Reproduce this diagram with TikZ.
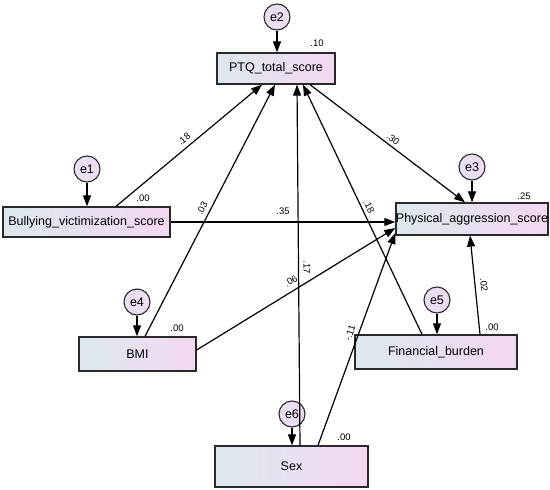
\documentclass[tikz,border=0pt]{standalone}
\usepackage{fontspec}
\setmainfont{Liberation Sans}
\usetikzlibrary{arrows.meta}
\definecolor{boxL}{HTML}{DDE8EE}
\definecolor{boxR}{HTML}{F3D8F2}
\definecolor{errL}{HTML}{E6E0F2}
\definecolor{errR}{HTML}{F2DCF2}
\definecolor{edge}{HTML}{2A2A2A}
\tikzset{
  var/.style={draw=edge, line width=1.3pt, left color=boxL, right color=boxR,
    inner sep=0pt, font=\fontsize{12.5}{14}\selectfont},
  err/.style={circle, draw=edge, line width=1.1pt, left color=errL, right color=errR,
    minimum size=26pt, inner sep=0pt, font=\fontsize{12.5}{14}\selectfont},
  path/.style={line width=1.2pt, -{Triangle[length=11pt,width=8pt]}},
  coef/.style={font=\fontsize{9.5}{10}\selectfont, inner sep=1pt},
}
\begin{document}
\begin{tikzpicture}[x=1pt, y=-1pt]
\useasboundingbox (0,0) rectangle (550,490);
% boxes
\node[var, minimum width=118pt, minimum height=31pt] (PTQ) at (276,68.5) {PTQ\_total\_score};
\node[var, minimum width=167pt, minimum height=30pt] (BV) at (86.5,222) {Bullying\_victimization\_score};
\node[var, minimum width=150pt, minimum height=32pt] (PA) at (472,219) {Physical\_aggression\_score};
\node[var, minimum width=117pt, minimum height=34pt] (BMI) at (137.5,354) {BMI};
\node[var, minimum width=162pt, minimum height=34pt] (FB) at (436,352) {Financial\_burden};
\node[var, minimum width=153pt, minimum height=41pt] (SEX) at (291.5,466.5) {Sex};
% error terms
\node[err] (e2) at (277,17) {e2};
\node[err] (e1) at (87,169) {e1};
\node[err] (e3) at (472,167) {e3};
\node[err] (e4) at (137,302) {e4};
\node[err] (e5) at (437,300) {e5};
\node[err] (e6) at (292,414) {e6};
\draw[path] (e2) -- (e2 |- PTQ.north);
\draw[path] (e1) -- (e1 |- BV.north);
\draw[path] (e3) -- (e3 |- PA.north);
\draw[path] (e4) -- (e4 |- BMI.north);
\draw[path] (e5) -- (e5 |- FB.north);
\draw[path] (e6) -- (e6 |- SEX.north);
% structural paths
\draw[path] ([xshift=29.5pt]BV.north) -- ([xshift=-14pt]PTQ.south);
\draw[path] ([xshift=7.5pt]BMI.north) -- ([xshift=-1pt]PTQ.south);
\draw[path] ([xshift=8.5pt]SEX.north) -- ([xshift=21pt]PTQ.south);
\draw[path] ([xshift=-14pt]FB.north) -- ([xshift=27pt]PTQ.south);
\draw[path] ([xshift=34pt]PTQ.south) -- ([xshift=-7pt]PA.north);
\draw[path] (BV.east) -- ([yshift=-3pt]PA.west);
\draw[path] ([yshift=4pt]BMI.east) -- ([yshift=-9pt]PA.west);
\draw[path] ([xshift=26.5pt]SEX.north) -- ([yshift=-14pt]PA.west);
\draw[path] ([xshift=44pt]FB.north) -- ([xshift=-2pt]PA.south);
% coefficients
\node[coef, rotate=39] (c1) at (184,139) {.18};
\node[coef, rotate=63] (c2) at (202,208) {.03};
\node[coef] (c3) at (283,211) {.35};
\node[coef, rotate=-37] (c4) at (393,139) {.30};
\node[coef, rotate=-64] (c5) at (369,207) {.18};
\node[coef, rotate=-90] (c6) at (307,267) {.17};
\node[coef, rotate=31] (c7) at (291,281) {.06};
\node[coef, rotate=70] (c8) at (350,333) {-.11};
\node[coef, rotate=-84] (c9) at (484,285) {.02};
% R squared
\node[coef] (r1) at (317,43) {.10};
\node[coef] (r2) at (143,198) {.00};
\node[coef] (r3) at (524,196) {.25};
\node[coef] (r4) at (177,328) {.00};
\node[coef] (r5) at (492,327) {.00};
\node[coef] (r6) at (344,437) {.00};
\end{tikzpicture}
\end{document}
